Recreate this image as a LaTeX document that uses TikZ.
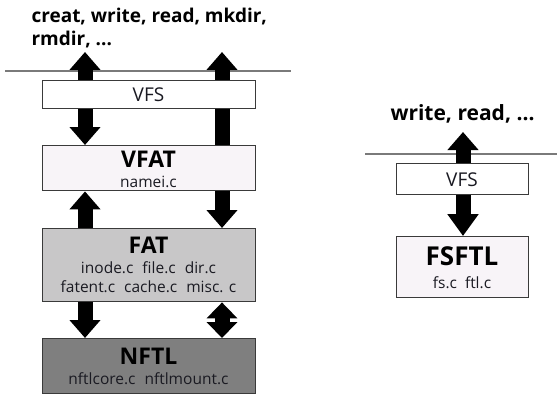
\documentclass[tikz,border=0pt]{standalone}
\usepackage{fontspec}
\setmainfont{Open Sans}
\usetikzlibrary{arrows.meta}
\pgfdeclarelayer{bg}
\pgfsetlayers{bg,main}
\definecolor{boxline}{HTML}{3A3A3A}
\definecolor{sepline}{HTML}{7A7A7A}
\definecolor{lightfill}{HTML}{F8F4F8}
\definecolor{midfill}{HTML}{C8C7C8}
\definecolor{darkfill}{HTML}{7F7F7F}
\definecolor{txt}{HTML}{1A1A22}
\begin{document}
\begin{tikzpicture}[x=1pt,y=-1pt,
  box/.style={draw=boxline,line width=1.4pt,inner sep=0pt,anchor=north west},
  hdr/.style={anchor=base west,text=black,font=\fontsize{19}{24}\selectfont\bfseries},
  ttl/.style={anchor=base,text=black,font=\fontsize{23}{27}\selectfont\bfseries},
  sub/.style={anchor=base,text=txt,font=\fontsize{15.5}{18}\selectfont},
  vfslbl/.style={anchor=base,text=txt,font=\fontsize{19}{22}\selectfont},
  bigarrow/.style={line width=15pt,-{Triangle[width=30pt,length=18pt]}},
  dblarrow/.style={line width=15pt,{Triangle[width=30pt,length=16pt]}-{Triangle[width=30pt,length=16pt]}},
  sep/.style={draw=sepline,line width=1.4pt}]
\useasboundingbox (0,0) rectangle (557,396);
% named coordinates
\coordinate (lx) at (85,0);
\coordinate (rx) at (222,0);
\coordinate (rr) at (463,0);
\coordinate (ltop) at (85,52);
\coordinate (rtop) at (222,52);
\coordinate (rrtop) at (463,132);
\coordinate (sepLa) at (5,71);
\coordinate (sepLb) at (291,71);
\coordinate (sepRa) at (365,154);
\coordinate (sepRb) at (557,154);
% headers
\node[hdr] (h1) at (28,23) {creat, write, read, mkdir,};
\node[hdr] (h2) at (28,46) {rmdir, ...};
\node[hdr,font=\fontsize{21}{25}\selectfont\bfseries] (h3) at (387,121) {write, read, ...};
% left boxes
\node[box,fill=white,minimum width=213pt,minimum height=28pt] (vfsL) at (42,80) {};
\node[vfslbl] (vfsLt) at (148.5,101) {VFS};
\node[box,fill=lightfill,minimum width=213pt,minimum height=45pt] (vfat) at (42,145) {};
\node[ttl] (vfatt) at (148.5,167) {VFAT};
\node[sub] (vfats) at (148.5,187) {namei.c};
\node[box,fill=midfill,minimum width=213pt,minimum height=73pt] (fat) at (42,228) {};
\node[ttl] (fatt) at (148.5,253) {FAT};
\node[sub] (fats1) at (148.5,273) {inode.c\hspace{9pt}file.c\hspace{9pt}dir.c};
\node[sub] (fats2) at (148.5,292) {fatent.c\hspace{9pt}cache.c\hspace{9pt}misc. c};
\node[box,fill=darkfill,minimum width=213pt,minimum height=55pt] (nftl) at (42,338) {};
\node[ttl] (nftlt) at (148.5,364) {NFTL};
\node[sub] (nftls) at (148.5,384) {nftlcore.c\hspace{9pt}nftlmount.c};
% right boxes
\node[box,fill=white,minimum width=132pt,minimum height=31pt] (vfsR) at (396,163) {};
\node[vfslbl] (vfsRt) at (462,186) {VFS};
\node[box,fill=lightfill,minimum width=132pt,minimum height=61pt] (fsftl) at (396,236) {};
\node[ttl,font=\fontsize{26}{30}\selectfont\bfseries] (fsftlt) at (462,265) {FSFTL};
\node[sub] (fsftls) at (462,288) {fs.c\hspace{8pt}ftl.c};
\begin{pgfonlayer}{bg}
\draw[sep] (sepLa) -- (sepLb);
\draw[sep] (sepRa) -- (sepRb);
% left column arrows
\draw[bigarrow] (vfsL.north -| lx) -- (ltop);
\draw[bigarrow] (vfat.north -| rx) -- (rtop);
\draw[bigarrow] (vfsL.south -| lx) -- (vfat.north -| lx);
\draw[bigarrow] (fat.north -| lx) -- (vfat.south -| lx);
\draw[bigarrow] (vfat.south -| rx) -- (fat.north -| rx);
\draw[bigarrow] (fat.south -| lx) -- (nftl.north -| lx);
\draw[dblarrow] (fat.south -| rx) -- (nftl.north -| rx);
% right column arrow
\draw[line width=15pt,{Triangle[width=30pt,length=22pt]}-{Triangle[width=30pt,length=18pt]}] (fsftl.north -| rr) -- (rrtop);
\end{pgfonlayer}
\end{tikzpicture}
\end{document}
